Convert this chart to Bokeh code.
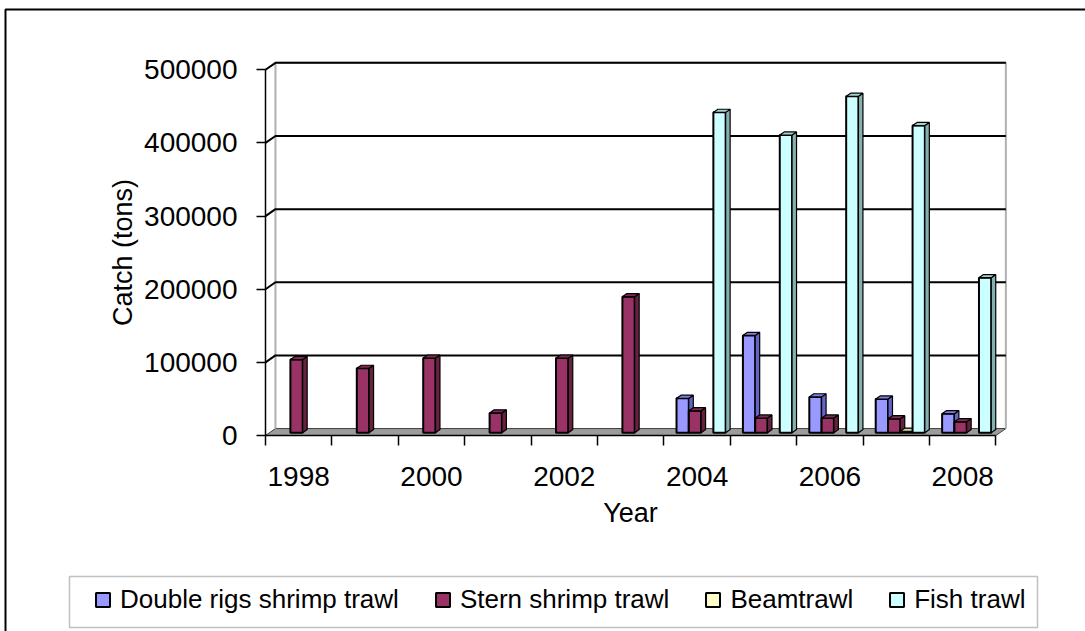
from bokeh.plotting import figure
from bokeh.models import Range1d, FixedTicker, Legend, LegendItem, BoxAnnotation
from bokeh.embed import file_html
from bokeh.resources import INLINE

# ---------------- data ----------------
years = [1998, 1999, 2000, 2001, 2002, 2003, 2004, 2005, 2006, 2007, 2008]
legend_labels = ["Double rigs shrimp trawl", "Stern shrimp trawl", "Beamtrawl", "Fish trawl"]
double_rigs = [0, 0, 0, 0, 0, 0, 47000, 133000, 49000, 46000, 26000]
stern_shrimp = [100000, 88000, 102000, 27000, 102000, 186000, 30000, 20000, 20000, 19000, 15000]
beam_trawl = [0, 0, 0, 0, 0, 0, 0, 0, 0, 2000, 0]
fish_trawl = [0, 0, 0, 0, 0, 0, 438000, 407000, 460000, 420000, 212000]
y_ticks = [0, 100000, 200000, 300000, 400000, 500000]
x_label_years = [1998, 2000, 2002, 2004, 2006, 2008]

front_colors = ["#9999FF", "#993366", "#FFFFCC", "#CCFFFF"]
side_colors = ["#6464C8", "#66223F", "#B3B38F", "#86AFAF"]
top_colors = ["#7C7CE2", "#7E2A52", "#D6D6AA", "#A6D2D2"]

FONT = "Liberation Sans"
W_PX, H_PX = 1085, 631

# ---------------- layout helpers (pixel -> data) ----------------
n = len(years)
PX_CAT = 66.4            # pixels per category
PX_VAL = 73.14 / 100000  # pixels per unit of value
AX_LEFT_PX, AX_BOTTOM_PX = 265, 435


def X(px):
    return -0.5 + (px - AX_LEFT_PX) / PX_CAT


def Y(py):
    return (AX_BOTTOM_PX - py) / PX_VAL


# depth effect
DX = 0.15
DY = 9500
F1, F2 = 0.4, 0.85
W = 0.185
offsets = [-1.5 * W, -0.5 * W, 0.5 * W, 1.5 * W]

p = figure(width=W_PX, height=H_PX, output_backend="svg", toolbar_location=None,
           x_range=Range1d(X(0), X(W_PX)), y_range=Range1d(Y(H_PX), Y(0)),
           min_border_left=0, min_border_right=0, min_border_top=0, min_border_bottom=0)
p.background_fill_color = "white"
p.border_fill_color = "white"
p.outline_line_color = None
p.xgrid.visible = False
p.ygrid.visible = False

# outer frame (top and left edges)
p.line([X(5), X(5), X(W_PX + 20)], [Y(H_PX + 20), Y(9), Y(9)],
       line_color="black", line_width=2)

# floor
p.patch([-0.5, 10.5, 10.5 + DX, -0.5 + DX], [0, 0, DY, DY],
        fill_color="#9C9C9C", line_color="#404040", line_width=1)

# back wall edges
ymax = y_ticks[-1]
p.line([-0.5 + DX, -0.5 + DX, 10.5 + DX, 10.5 + DX],
       [DY, ymax + DY, ymax + DY, DY], line_color="#B0B0B0", line_width=2)

# gridlines on back wall with left-wall diagonals
gx = [[-0.5, -0.5 + DX, 10.5 + DX] for v in y_ticks[1:]]
gy = [[v, v + DY, v + DY] for v in y_ticks[1:]]
p.multi_line(gx, gy, line_color="black", line_width=2)

# bars
data = [double_rigs, stern_shrimp, beam_trawl, fish_trawl]
legend_items = []
ddx = (F2 - F1) * DX
ddy = (F2 - F1) * DY
for k, vals in enumerate(data):
    idx = [i for i, v in enumerate(vals) if v > 0]
    x0 = [i + offsets[k] - W / 2 + F1 * DX for i in idx]
    x1 = [a + W for a in x0]
    y0 = [F1 * DY for _ in idx]
    y1 = [vals[i] + F1 * DY for i in idx]
    p.quad(left=x0, right=x1, bottom=y0, top=y1,
           fill_color=front_colors[k], line_color="black", line_width=2)
    side_xs = [[b, b + ddx, b + ddx, b] for b in x1]
    side_ys = [[a, a + ddy, t + ddy, t] for a, t in zip(y0, y1)]
    p.patches(side_xs, side_ys, fill_color=side_colors[k], line_color="black", line_width=1.2)
    top_xs = [[a, b, b + ddx, a + ddx] for a, b in zip(x0, x1)]
    top_ys = [[t, t, t + ddy, t + ddy] for t in y1]
    p.patches(top_xs, top_ys, fill_color=top_colors[k], line_color="black", line_width=1.2)
    # square swatch renderer used only by the legend
    swatch = p.scatter(x=[i + offsets[k] for i in idx], y=[vals[i] for i in idx],
                       marker="square", size=14, fill_color=front_colors[k],
                       line_color="black", line_width=2, visible=False)
    legend_items.append(LegendItem(label=legend_labels[k], renderers=[swatch]))

# axes (fixed inside the full-canvas frame)
yax = p.yaxis[0]
yax.fixed_location = -0.5
yax.bounds = (y_ticks[0], y_ticks[-1])
yax.ticker = FixedTicker(ticks=y_ticks)
yax.major_label_overrides = {v: str(v) for v in y_ticks}
yax.major_tick_out = 9
yax.major_tick_in = 0
yax.minor_tick_out = 0
yax.minor_tick_in = 0
yax.major_tick_line_width = 1.5
yax.axis_line_width = 1.5
yax.axis_line_color = "black"
yax.major_label_standoff = 19
yax.major_label_text_font = FONT
yax.major_label_text_font_size = "28px"
yax.major_label_text_color = "black"
yax.axis_label = "Catch (tons)"
yax.axis_label_text_font = FONT
yax.axis_label_text_font_size = "27px"
yax.axis_label_text_font_style = "normal"
yax.axis_label_text_color = "black"
yax.axis_label_standoff = 3

xax = p.xaxis[0]
xax.fixed_location = 0
xax.bounds = (-0.5, n - 0.5)
centers = [years.index(y) for y in x_label_years]
xax.ticker = FixedTicker(ticks=centers, minor_ticks=[i - 0.5 for i in range(n + 1)])
xax.major_label_overrides = {c: str(y) for c, y in zip(centers, x_label_years)}
xax.major_tick_out = 0
xax.major_tick_in = 0
xax.minor_tick_out = 10
xax.minor_tick_in = 0
xax.minor_tick_line_color = "black"
xax.minor_tick_line_width = 1.5
xax.axis_line_width = 1.5
xax.axis_line_color = "black"
xax.major_label_standoff = 21
xax.major_label_text_font = FONT
xax.major_label_text_font_size = "28px"
xax.major_label_text_color = "black"
xax.axis_label = "Year"
xax.axis_label_text_font = FONT
xax.axis_label_text_font_size = "27px"
xax.axis_label_text_font_style = "normal"
xax.axis_label_text_color = "black"
xax.axis_label_standoff = 9

# legend box
p.add_layout(BoxAnnotation(left=X(69), right=X(1037), top=Y(576), bottom=Y(627),
                           fill_color="white", fill_alpha=1,
                           line_color="#333333", line_width=1.5, level="annotation"))

# legend
legend = Legend(items=legend_items, orientation="horizontal", location=(85, 14),
                label_text_font=FONT, label_text_font_size="26px", label_text_color="black",
                glyph_width=35, glyph_height=35, label_standoff=0,
                spacing=26, padding=5, margin=0, border_line_color=None,
                background_fill_alpha=0, inactive_fill_alpha=0)
p.add_layout(legend, "center")

open("out.html", "w").write(file_html(p, INLINE))
